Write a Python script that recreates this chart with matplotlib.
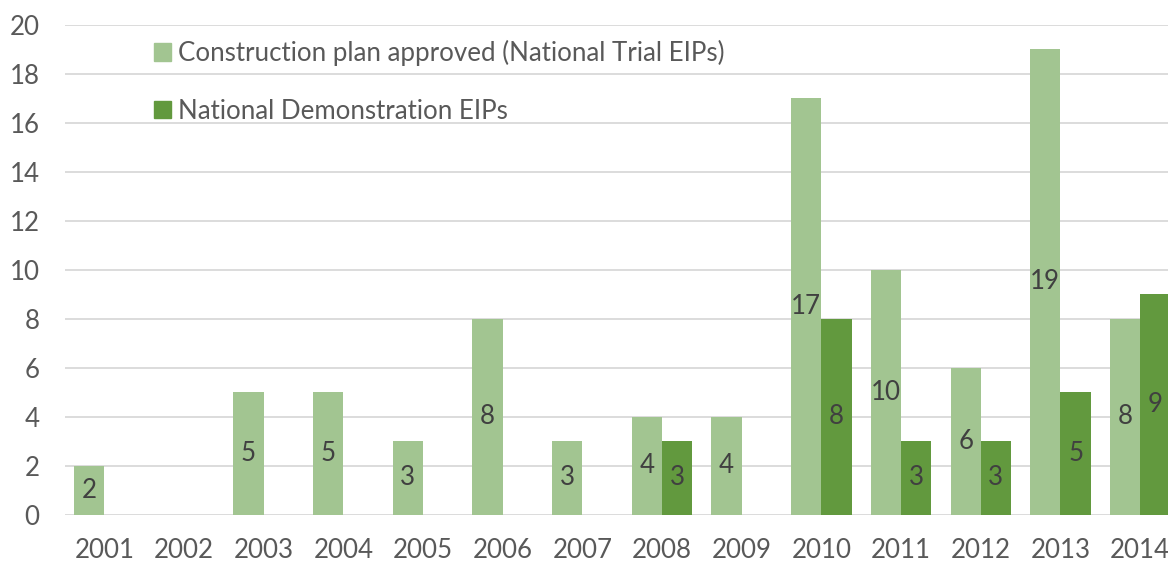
import matplotlib
matplotlib.use("Agg")
import matplotlib.pyplot as plt
import numpy as np
from matplotlib.patches import Patch

years = ["2001", "2002", "2003", "2004", "2005", "2006", "2007",
         "2008", "2009", "2010", "2011", "2012", "2013", "2014"]
trial = [2, 0, 5, 5, 3, 8, 3, 4, 4, 17, 10, 6, 19, 8]
demo = [0, 0, 0, 0, 0, 0, 0, 3, 0, 8, 3, 3, 5, 9]
series_names = ["Construction plan approved (National Trial EIPs)",
                "National Demonstration EIPs"]
yticks = [0, 2, 4, 6, 8, 10, 12, 14, 16, 18, 20]

light = "#A2C591"
dark = "#62993E"
grid_c = "#D9D9D9"
tick_c = "#595959"
lab_c = "#404040"

plt.rcParams['font.family'] = ['Lato', 'DejaVu Sans']
FS = 18.6

W, H = 1168, 562
fig = plt.figure(figsize=(W / 100, H / 100), dpi=100)
left_px, right_px = 64.5, 1180.0
top_px, bot_px = 24.7, 514.7
ax = fig.add_axes([left_px / W, 1 - bot_px / H, (right_px - left_px) / W, (bot_px - top_px) / H])

x = np.arange(len(years))
bw = 0.38
b1 = ax.bar(x - bw / 2, trial, bw, color=light, zorder=2)
b2 = ax.bar(x + bw / 2, demo, bw, color=dark, zorder=2)

for bars, vals in ((b1, trial), (b2, demo)):
    for rect, v in zip(bars, vals):
        if v > 0:
            ax.text(rect.get_x() + rect.get_width() / 2, v / 2, str(v),
                    ha="center", va="center", fontsize=FS, color=lab_c, zorder=3)

ax.set_xlim(-0.5, len(years) - 0.5)
ax.set_ylim(0, 20)
ax.set_yticks(yticks)
ax.set_xticks(x)
ax.set_xticklabels(years)
ax.tick_params(axis="both", length=0, labelsize=FS, colors=tick_c)
ax.tick_params(axis="y", pad=18)
ax.tick_params(axis="x", pad=17)
ax.yaxis.grid(True, color=grid_c, linewidth=1.3, zorder=0)
ax.set_axisbelow(True)
for s in ax.spines.values():
    s.set_visible(False)

handles = [Patch(color=light), Patch(color=dark)]
leg = fig.legend(handles, series_names, loc="upper left",
                 bbox_to_anchor=(154 / W, 1 - 40 / H), frameon=False,
                 fontsize=FS, handlelength=0.64, handleheight=0.64,
                 handletextpad=0.3, labelspacing=1.27, borderpad=0, borderaxespad=0)
for t in leg.get_texts():
    t.set_color(tick_c)

fig.savefig("out.png", dpi=100)
